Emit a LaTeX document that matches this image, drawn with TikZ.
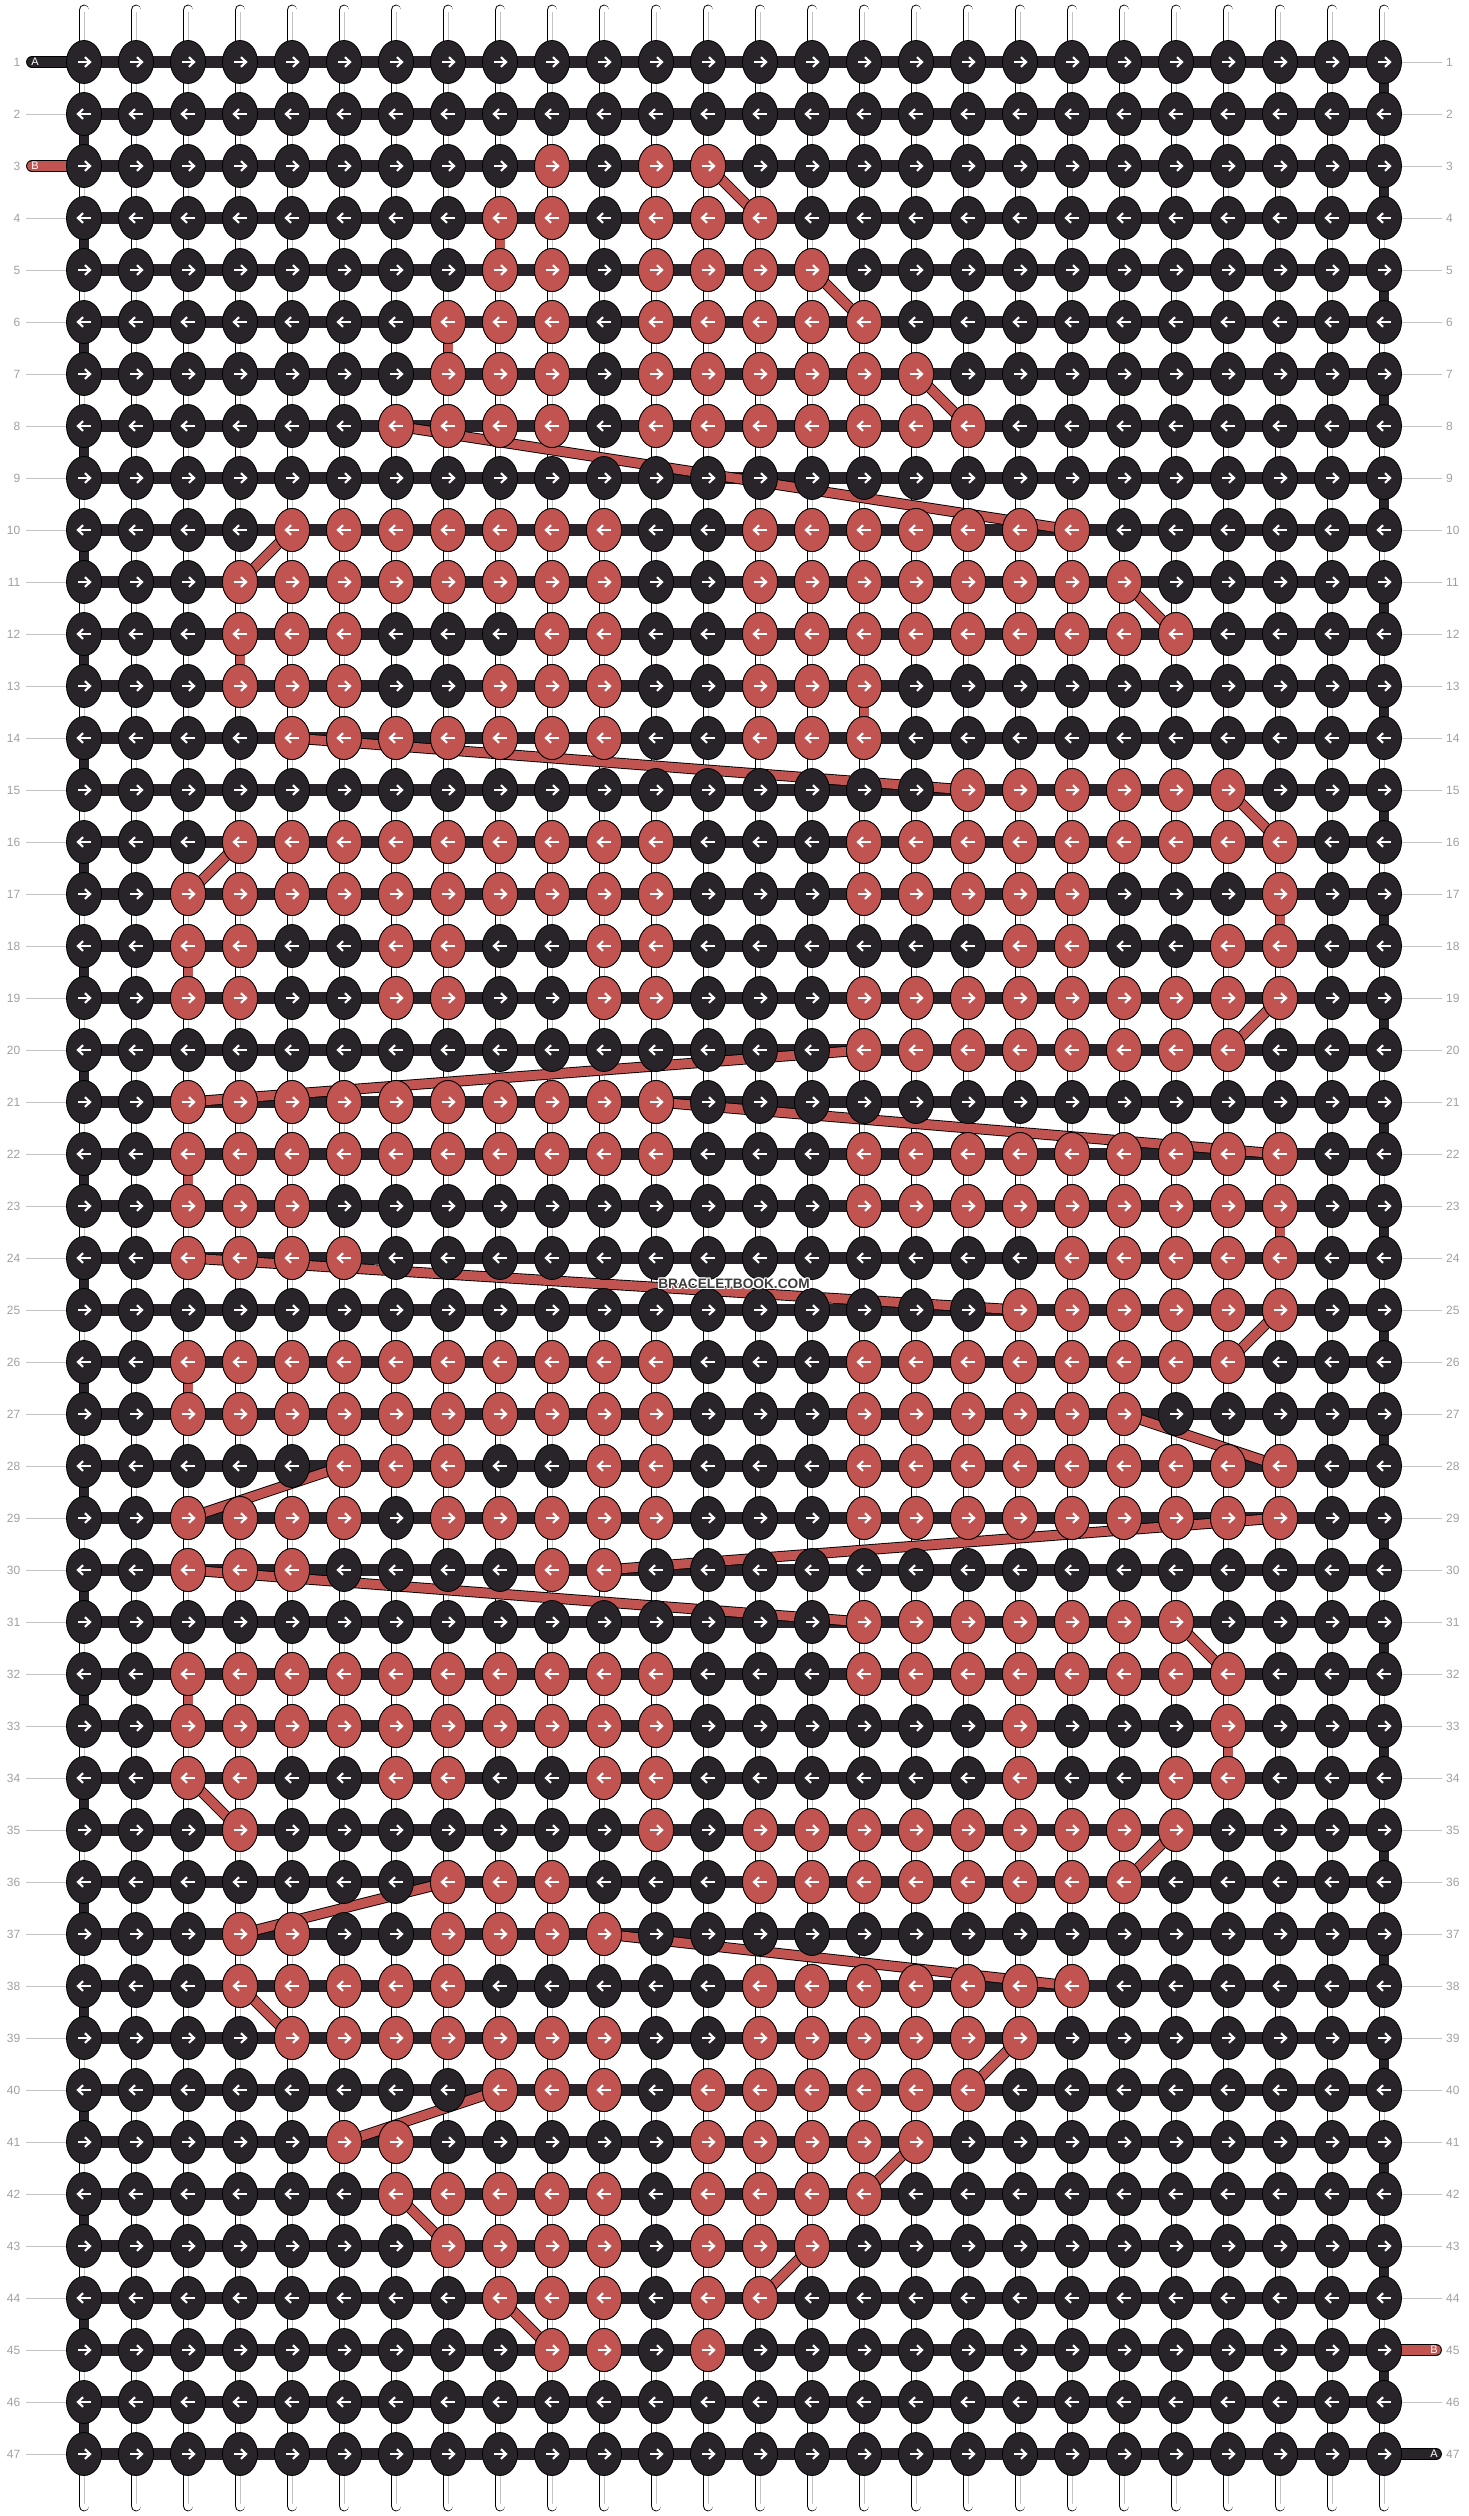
\documentclass[tikz,border=0pt]{standalone}
\usepackage{fontspec}
\setmainfont{Liberation Sans}
\usetikzlibrary{shapes.geometric}

\definecolor{noir}{RGB}{40,36,42}
\definecolor{rouge}{RGB}{193,84,80}
\definecolor{gristexte}{RGB}{160,160,160}
\definecolor{grisligne}{RGB}{195,195,195}
\definecolor{grismarque}{RGB}{60,60,60}

\tikzset{
  knot/.style={ellipse, draw=black, line width=0.8pt, fill=noir,
    minimum width=35pt, minimum height=43pt, inner sep=0pt},
  redknot/.style={knot, fill=rouge},
  strand/.style={draw=black, line width=0.9pt, double=white,
    double distance=9pt, line cap=round},
  strandmid/.style={draw=grisligne, line width=1pt},
  rowbar/.style={draw=noir, line width=12pt},
  turnbar/.style={draw=black, line width=0.9pt, double=noir, double distance=9pt},
  redpath/.style={draw=black, line width=0.9pt, double=rouge, double distance=9pt},
  tabdark/.style={draw=black, line width=0.9pt, double=noir,
    double distance=10pt, line cap=round},
  tabred/.style={tabdark, double=rouge},
  labelline/.style={draw=grisligne, line width=1pt},
  arrowline/.style={draw=white, line width=2.2pt, line join=miter},
  rowlabel/.style={text=gristexte, font=\fontsize{12}{12}\selectfont, inner sep=0pt},
  tabtext/.style={text=white, font=\fontsize{11}{11}\selectfont, inner sep=0pt},
  marque/.style={font=\bfseries\fontsize{13.7}{14}\selectfont, inner sep=0pt},
  rarrow/.pic={\draw[arrowline] (-6.5,0) -- (5.5,0);
    \draw[arrowline] (1,-4.8) -- (6,0) -- (1,4.8);},
  larrow/.pic={\draw[arrowline] (6.5,0) -- (-5.5,0);
    \draw[arrowline] (-1,-4.8) -- (-6,0) -- (-1,4.8);},
}

\begin{document}
\begin{tikzpicture}[x=1pt,y=-1pt]
  \useasboundingbox (0,0) rectangle (1468,2516);

  % points
  \foreach \r in {1,...,47}
    \foreach \c in {1,...,26}
      \coordinate (p-\r-\c) at ({84+52*(\c-1)},{62+52*(\r-1)});
  \foreach \c in {1,...,26} {
    \coordinate (haut-\c) at ({84+52*(\c-1)},10);
    \coordinate (bas-\c) at ({84+52*(\c-1)},2506);
  }

  % fils verticaux
  \foreach \c in {1,...,26} {
    \draw[strand] (haut-\c) -- (bas-\c);
    \draw[strandmid] ([yshift=-2pt]haut-\c) -- ([yshift=2pt]bas-\c);
  }

  % numeros
  \foreach \r in {1,...,47} {
    \node[rowlabel, anchor=east] (gauche-\r) at (20.5,{62+52*(\r-1)}) {\r};
    \node[rowlabel, anchor=west] (droite-\r) at (1446,{62+52*(\r-1)}) {\r};
  }
  \foreach \r in {2,4,5,...,47}
    \draw[labelline] ([xshift=5.5pt]gauche-\r.east) -- (p-\r-1);
  \foreach \r in {1,...,44,46}
    \draw[labelline] (p-\r-26) -- ([xshift=-4pt]droite-\r.west);

  % rangs
  \foreach \r in {1,...,47}
    \draw[rowbar] (p-\r-1) -- (p-\r-26);

  % bouts A et B
  \coordinate (debut-a) at (32,62);
  \coordinate (debut-b) at (32,166);
  \coordinate (fin-b) at (1436,2350);
  \coordinate (fin-a) at (1436,2454);
  \draw[tabdark] (debut-a) -- (p-1-1);
  \draw[tabred] (debut-b) -- (p-3-1);
  \draw[tabred] (p-45-26) -- (fin-b);
  \draw[tabdark] (p-47-26) -- (fin-a);
  \node[tabtext] (lettre-a1) at (35,62) {A};
  \node[tabtext] (lettre-b1) at (35,166) {B};
  \node[tabtext] (lettre-b2) at (1434,2350) {B};
  \node[tabtext] (lettre-a2) at (1434,2454) {A};

  % demi-tours
  \foreach \r in {1,...,46} {
    \pgfmathtruncatemacro{\s}{\r+1}
    \pgfmathtruncatemacro{\c}{mod(\r,2)==1 ? 26 : 1}
    \draw[turnbar] (p-\r-\c) -- (p-\s-\c);
  }

  % fil rouge
  \foreach \ra/\ca/\rb/\cb in {3/13/4/14, 4/9/5/9, 5/15/6/16, 6/8/7/8,
      7/17/8/18, 8/7/10/20, 10/5/11/4, 11/21/12/22, 12/4/13/4, 13/16/14/16,
      14/5/15/18, 15/23/16/24, 16/4/17/3, 17/24/18/24, 18/3/19/3,
      19/24/20/23, 20/16/21/3, 21/12/22/24, 22/3/23/3, 23/24/24/24,
      24/3/25/19, 25/24/26/23, 26/3/27/3, 27/21/28/24, 28/6/29/3,
      29/24/30/11, 30/3/31/16, 31/22/32/23, 32/3/33/3, 33/23/34/23,
      34/3/35/4, 35/22/36/21, 36/8/37/4, 37/11/38/20, 38/4/39/5,
      39/19/40/18, 40/9/41/6, 41/17/42/16, 42/7/43/8, 43/15/44/14,
      44/9/45/10}
    \draw[redpath] (p-\ra-\ca) -- (p-\rb-\cb);

  % noeuds
  \foreach \r in {1,...,47}
    \foreach \c in {1,...,26}
      \node[knot] (k-\r-\c) at (p-\r-\c) {};

  % noeuds rouges
  \foreach \r/\de/\a in {3/10/10, 3/12/13, 4/9/10, 4/12/14, 5/9/10, 5/12/15,
      6/8/10, 6/12/16, 7/8/10, 7/12/17, 8/7/10, 8/12/18,
      10/5/11, 10/14/20, 11/4/11, 11/14/21, 12/4/6, 12/10/11, 12/14/22,
      13/4/6, 13/9/11, 13/14/16, 14/5/11, 14/14/16, 15/18/23,
      16/4/12, 16/16/24, 17/3/12, 17/16/20, 17/24/24,
      18/3/4, 18/7/8, 18/11/12, 18/19/20, 18/23/24,
      19/3/4, 19/7/8, 19/11/12, 19/16/24, 20/16/23, 21/3/12,
      22/3/12, 22/16/24, 23/3/5, 23/16/24, 24/3/6, 24/20/24, 25/19/24,
      26/3/12, 26/16/23, 27/3/12, 27/16/21, 28/6/8, 28/11/12, 28/16/24,
      29/3/6, 29/8/12, 29/16/24, 30/3/5, 30/10/11, 31/16/22,
      32/3/12, 32/16/23, 33/3/12, 33/19/19, 33/23/23,
      34/3/4, 34/7/8, 34/11/12, 34/19/19, 34/22/23,
      35/4/4, 35/12/12, 35/14/22, 36/8/10, 36/14/21, 37/4/5, 37/8/11,
      38/4/8, 38/14/20, 39/5/11, 39/14/19, 40/9/11, 40/13/18,
      41/6/7, 41/13/17, 42/7/11, 42/13/16, 43/8/11, 43/13/15,
      44/9/11, 44/13/14, 45/10/11, 45/13/13}
    \foreach \c in {\de,...,\a}
      \node[redknot] (kr-\r-\c) at (p-\r-\c) {};

  % fleches
  \foreach \r in {1,...,47}
    \foreach \c in {1,...,26} {
      \ifodd\r\relax \pic at (p-\r-\c) {rarrow}; \else \pic at (p-\r-\c) {larrow}; \fi
    }

  % marque
  \foreach \dx/\dy in {-1.2/0, 1.2/0, 0/-1.2, 0/1.2, -0.9/-0.9, 0.9/-0.9, -0.9/0.9, 0.9/0.9}
    \node[marque, text=white] at ({734+\dx},{1284+\dy}) {BRACELETBOOK.COM};
  \node[marque, text=grismarque] (marque) at (734,1284) {BRACELETBOOK.COM};
\end{tikzpicture}
\end{document}
